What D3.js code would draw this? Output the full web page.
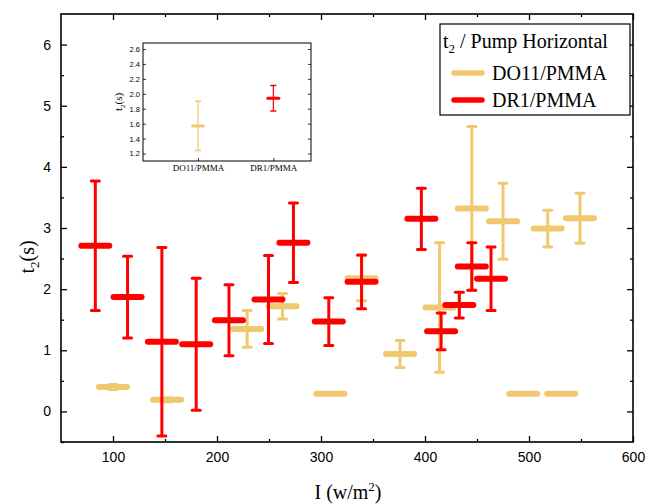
<!DOCTYPE html>
<html><head><meta charset="utf-8">
<script src="https://cdn.jsdelivr.net/npm/d3@7"></script>
<style>body{margin:0;background:#fff}svg{display:block}</style>
</head><body>
<script>
// ---- data ----
const seriesNames = ["DO11/PMMA", "DR1/PMMA"];
const doX   = [100, 152, 229, 263, 309, 339, 376, 414, 445, 475, 494.5, 518, 531, 549];
const doY   = [0.40, 0.19, 1.35, 1.72, 0.29, 2.18, 0.94, 1.70, 3.32, 3.11, 0.29, 2.99, 0.29, 3.16];
const doErr = [0.04, 0.03, 0.30, 0.21, 0.0, 0.37, 0.22, 1.06, 1.34, 0.62, 0.0, 0.30, 0.0, 0.41];
const drX   = [83, 114, 147, 180, 211.5, 249.5, 273.5, 307.5, 339, 396.5, 415.5, 433, 445, 463.5];
const drY   = [2.71, 1.87, 1.14, 1.10, 1.49, 1.83, 2.76, 1.47, 2.12, 3.15, 1.31, 1.74, 2.37, 2.17];
const drErr = [1.06, 0.67, 1.54, 1.08, 0.58, 0.72, 0.65, 0.39, 0.44, 0.50, 0.30, 0.21, 0.39, 0.52];
const xTicks = [100, 200, 300, 400, 500, 600];
const yTicks = [0, 1, 2, 3, 4, 5, 6];
// inset
const insetCats = ["DO11/PMMA", "DR1/PMMA"];
const insetY    = [1.57, 1.94];
const insetErr  = [0.33, 0.17];
const insetTicks = [1.2, 1.4, 1.6, 1.8, 2.0, 2.2, 2.4, 2.6];

const colors = ["#F0C86E", "#FF0000"];
const SERIF = "'Liberation Serif', 'Times New Roman', serif";
const SANS = "'Liberation Sans', Arial, sans-serif";

const W = 651, H = 504;
const svg = d3.select("body").append("svg").attr("width", W).attr("height", H);
const L = 61, R = 633, T = 14, B = 442;
const x = d3.scaleLinear().domain([50, 600]).range([L, R]);
const y = d3.scaleLinear().domain([-0.5, 6.5]).range([B, T]);

// axes
const axes = svg.append("g");
axes.append("g").attr("transform", `translate(0,${B})`)
  .call(d3.axisBottom(x).tickValues(xTicks).tickSizeInner(-6).tickSizeOuter(0).tickPadding(10).tickFormat(d3.format("d")));
axes.append("g").attr("transform", `translate(0,${B})`)
  .call(d3.axisBottom(x).tickValues(d3.range(150, 600, 100)).tickSizeInner(-3).tickSizeOuter(0).tickFormat(""));
axes.append("g").attr("transform", `translate(0,${T})`)
  .call(d3.axisTop(x).tickValues(xTicks).tickSizeInner(-6).tickSizeOuter(0).tickFormat(""));
axes.append("g").attr("transform", `translate(0,${T})`)
  .call(d3.axisTop(x).tickValues(d3.range(150, 600, 100)).tickSizeInner(-3).tickSizeOuter(0).tickFormat(""));
axes.append("g").attr("transform", `translate(${L},0)`)
  .call(d3.axisLeft(y).tickValues(yTicks).tickSizeInner(-6).tickSizeOuter(0).tickPadding(10).tickFormat(d3.format("d")));
axes.append("g").attr("transform", `translate(${L},0)`)
  .call(d3.axisLeft(y).tickValues(d3.range(-0.5, 6.5, 1)).tickSizeInner(-3).tickSizeOuter(0).tickFormat(""));
axes.append("g").attr("transform", `translate(${R},0)`)
  .call(d3.axisRight(y).tickValues(yTicks).tickSizeInner(-6).tickSizeOuter(0).tickFormat(""));
axes.append("g").attr("transform", `translate(${R},0)`)
  .call(d3.axisRight(y).tickValues(d3.range(0.5, 6.5, 1)).tickSizeInner(-3).tickSizeOuter(0).tickFormat(""));
axes.selectAll(".domain").remove();
axes.selectAll(".tick line").attr("stroke", "#000").attr("stroke-width", 1.3);
axes.selectAll(".tick text").attr("font-family", SANS).attr("font-size", 14).attr("fill", "#000");
axes.append("rect").attr("x", L).attr("y", T).attr("width", R - L).attr("height", B - T)
  .attr("fill", "none").attr("stroke", "#000").attr("stroke-width", 1.6);

// titles
const yt = svg.append("text").attr("transform", `translate(34,257) rotate(-90)`)
  .attr("text-anchor", "middle").attr("font-family", SERIF).attr("font-size", 20);
yt.append("tspan").text("t");
yt.append("tspan").attr("font-size", 13).attr("dy", 5).text("2");
yt.append("tspan").attr("dy", -5).text("(s)");
const xt = svg.append("text").attr("x", 348).attr("y", 499)
  .attr("text-anchor", "middle").attr("font-family", SERIF).attr("font-size", 20);
xt.append("tspan").text("I (w/m");
xt.append("tspan").attr("font-size", 13).attr("dy", -8).text("2");
xt.append("tspan").attr("dy", 8).text(")");

// series
function drawSeries(g, xs, ys, es, color, opt) {
  xs.forEach((xv, i) => {
    const cx = opt.xs(xv), cy = opt.ys(ys[i]);
    const top = opt.ys(ys[i] + es[i]), bot = opt.ys(ys[i] - es[i]);
    g.append("line").attr("x1", cx).attr("x2", cx).attr("y1", top).attr("y2", bot)
      .attr("stroke", color).attr("stroke-width", opt.vw);
    [top, bot].forEach(yy => g.append("line").attr("x1", cx - opt.cap).attr("x2", cx + opt.cap)
      .attr("y1", yy).attr("y2", yy).attr("stroke", color).attr("stroke-width", opt.cw).attr("stroke-linecap", "round"));
    g.append("line").attr("x1", cx - opt.bar).attr("x2", cx + opt.bar).attr("y1", cy).attr("y2", cy)
      .attr("stroke", color).attr("stroke-width", opt.bw).attr("stroke-linecap", "round");
  });
}
const mainOpt = { xs: x, ys: y, vw: 3, cap: 4, cw: 3, bar: 14, bw: 6 };
drawSeries(svg.append("g"), doX, doY, doErr, colors[0], mainOpt);
drawSeries(svg.append("g"), drX, drY, drErr, colors[1], mainOpt);

// legend
const lg = svg.append("g");
lg.append("rect").attr("x", 440).attr("y", 24).attr("width", 190).attr("height", 91)
  .attr("fill", "#fff").attr("stroke", "#000").attr("stroke-width", 1.2);
const lt = lg.append("text").attr("x", 443).attr("y", 48)
  .attr("font-family", SERIF).attr("font-size", 20);
lt.append("tspan").text("t");
lt.append("tspan").attr("font-size", 13).attr("dy", 5).text("2");
lt.append("tspan").attr("dy", -5).text(" / Pump Horizontal");
seriesNames.forEach((n, i) => {
  const yy = 73 + i * 27;
  lg.append("line").attr("x1", 454).attr("x2", 482).attr("y1", yy).attr("y2", yy)
    .attr("stroke", colors[i]).attr("stroke-width", 5.5).attr("stroke-linecap", "round");
  lg.append("text").attr("x", 492).attr("y", yy + 7)
    .attr("font-family", SERIF).attr("font-size", 20).text(n);
});

// inset
const iL = 143, iR = 311, iT = 43, iB = 161;
const ix = d3.scaleLinear().domain([0.27, 2.5]).range([iL, iR]);
const iy = d3.scaleLinear().domain([1.1, 2.68]).range([iB, iT]);
const ig = svg.append("g");
ig.append("rect").attr("x", iL).attr("y", iT).attr("width", iR - iL).attr("height", iB - iT).attr("fill", "#fff");
const iya = ig.append("g").attr("transform", `translate(${iL},0)`)
  .call(d3.axisLeft(iy).tickValues(insetTicks).tickSizeInner(-3).tickSizeOuter(0).tickPadding(3).tickFormat(d3.format(".1f")));
const iyr = ig.append("g").attr("transform", `translate(${iR},0)`)
  .call(d3.axisRight(iy).tickValues(insetTicks).tickSizeInner(-3).tickSizeOuter(0).tickFormat(""));
const ixa = ig.append("g").attr("transform", `translate(0,${iB})`)
  .call(d3.axisBottom(ix).tickValues([1, 2]).tickSizeInner(-3).tickSizeOuter(0).tickPadding(4).tickFormat((d, i) => insetCats[i]));
[iya, iyr, ixa].forEach(a => {
  a.select(".domain").remove();
  a.selectAll(".tick line").attr("stroke", "#000").attr("stroke-width", 0.8);
});
iya.selectAll(".tick text").attr("font-family", SANS).attr("font-size", 7.5).attr("fill", "#000");
ixa.selectAll(".tick text").attr("font-family", SERIF).attr("font-size", 9).attr("fill", "#000");
ig.append("rect").attr("x", iL).attr("y", iT).attr("width", iR - iL).attr("height", iB - iT)
  .attr("fill", "none").attr("stroke", "#000").attr("stroke-width", 1);
const iyt = ig.append("text").attr("transform", `translate(${iL - 21},${(iT + iB) / 2}) rotate(-90)`)
  .attr("text-anchor", "middle").attr("font-family", SERIF).attr("font-size", 11);
iyt.append("tspan").text("t");
iyt.append("tspan").attr("font-size", 7).attr("dy", 3).text("2");
iyt.append("tspan").attr("dy", -3).text("(s)");
insetY.forEach((v, i) => {
  drawSeries(ig.append("g"), [i + 1], [v], [insetErr[i]], colors[i], { xs: ix, ys: iy, vw: 1.2, cap: 2.5, cw: 1.5, bar: 5.5, bw: 3 });
});
</script>
</body></html>
